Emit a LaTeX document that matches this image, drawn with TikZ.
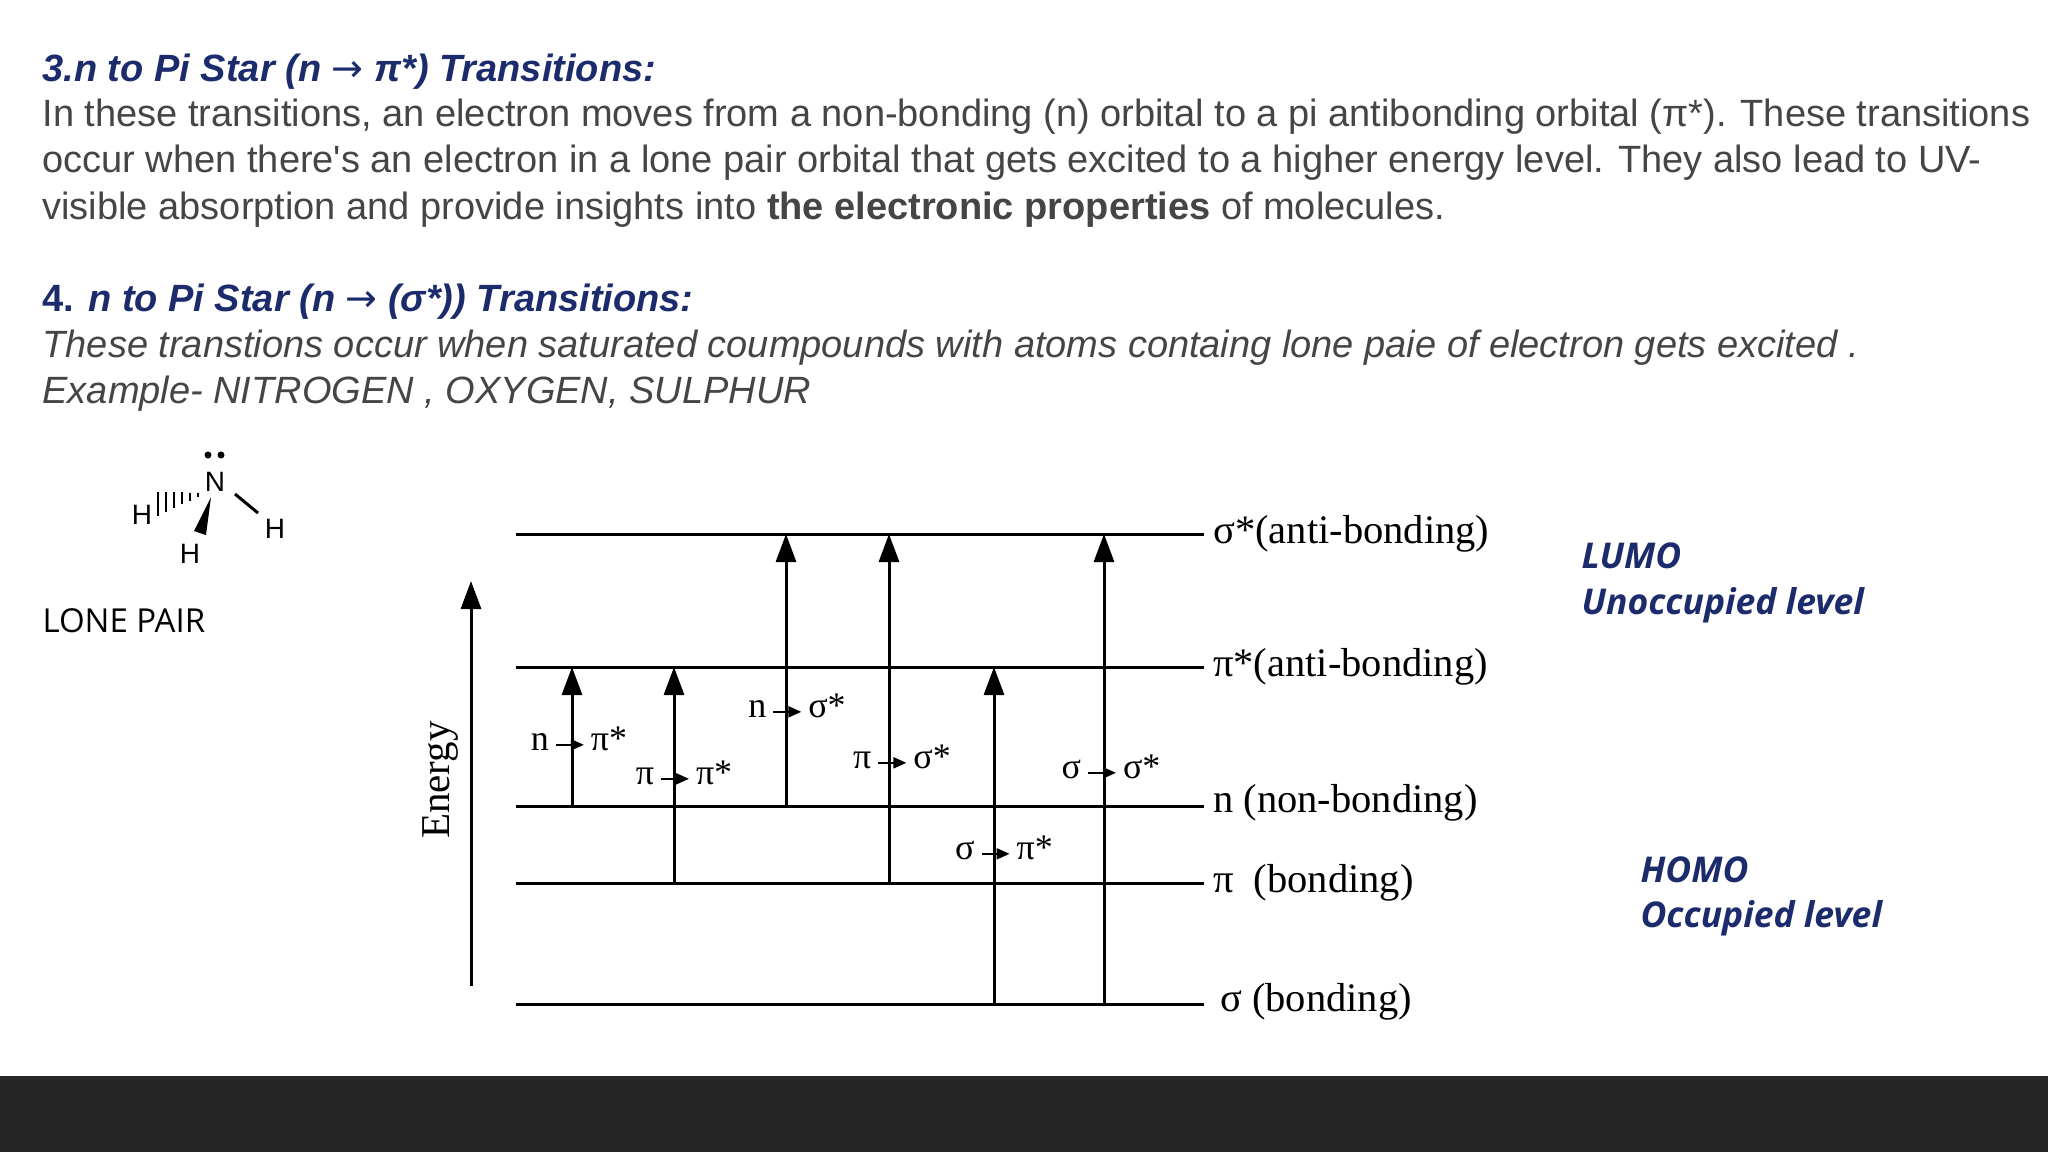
\documentclass[tikz,border=0pt]{standalone}
\usepackage{fontspec}
\setmainfont[Ligatures=NoCommon]{Liberation Sans}
\newfontfamily\dia{Liberation Serif}
\newfontfamily\osans{Open Sans}
\newfontfamily\djv{DejaVu Sans}
\usetikzlibrary{arrows.meta}
\definecolor{ttl}{HTML}{1C2B6B}
\definecolor{bodyc}{HTML}{454545}
\definecolor{band}{HTML}{262626}
\newcommand\myra{\,\tikz[baseline=-0.35ex]\draw[line width=2pt,-{Triangle[length=13pt,width=11pt]}] (0,0)--(28pt,0);\,}
\newcommand\tarr{{\djv\mdseries\upshape →}}
\tikzset{
  ttlf/.style={anchor=base west,text=ttl,font=\fontsize{38}{44}\selectfont\bfseries\itshape},
  bodyf/.style={anchor=base west,text=bodyc,font=\fontsize{38}{44}\selectfont},
  ibodyf/.style={anchor=base west,text=bodyc,font=\fontsize{38}{44}\selectfont\itshape},
  lvl/.style={line width=3pt},
  lvllab/.style={anchor=west,font=\dia\fontsize{40.5}{44}\selectfont,inner sep=0pt},
  tr/.style={line width=3pt,-{Triangle[length=28pt,width=20pt]}},
  trlab/.style={font=\dia\fontsize{36}{40}\selectfont,inner sep=0pt},
  homo/.style={anchor=base west,text=ttl,font=\osans\fontsize{35.5}{40}\selectfont\bfseries\itshape},
  atom/.style={font=\fontsize{28}{30}\selectfont,inner sep=1pt},
}
\begin{document}
\begin{tikzpicture}[x=1pt,y=-1pt]
\useasboundingbox (0,0) rectangle (2048,1152);
\fill[white] (0,0) rectangle (2048,1076);
\fill[band] (0,1076) rectangle (2048,1152);
% text
\node[ttlf] (t3) at (39,81) {3.n to Pi Star (n \tarr\ π*) Transitions:};
\node[bodyf] (b1) at (39,126) {In these transitions, an electron moves from a non-bonding (n) orbital to a pi antibonding orbital (π*). These transitions};
\node[bodyf] (b2) at (39,172) {occur when there\textquotesingle s an electron in a lone pair orbital that gets excited to a higher energy level. They also lead to UV-};
\node[bodyf] (b3) at (39,219) {visible absorption and provide insights into \textbf{the electronic properties} of molecules.};
\node[ttlf] (t4) at (39,311) {\upshape 4. \itshape n to Pi Star (n \tarr\ (σ*)) Transitions:};
\node[ibodyf] (i1) at (39,357) {These transtions occur when saturated coumpounds with atoms containg lone paie of electron gets excited .};
\node[ibodyf] (i2) at (39,403) {Example- NITROGEN , OXYGEN, SULPHUR};
% molecule
\node[atom] (N) at (215,482) {N};
\fill (208,455) circle (3.5pt) (221,455) circle (3.5pt);
\node[atom] (H1) at (142,515) {H};
\node[atom] (H2) at (275,529) {H};
\node[atom] (H3) at (190,554) {H};
\draw[line width=3pt] (235,494) -- (258,513);
\fill (211,497) -- (206,535) -- (194,531) -- cycle;
\foreach \i in {0,...,5}{
  \pgfmathsetmacro\xx{198-\i*8}
  \pgfmathsetmacro\hh{2+\i*2}
  \draw[line width=2pt] (\xx,{495+\i*1.7-\hh}) -- (\xx,{495+\i*1.7+\hh});
}
\node[anchor=base west,font=\osans\fontsize{33}{36}\selectfont] (lp) at (39,632) {LONE PAIR};
% levels
\foreach \nm/\y in {ss/534,ps/667,nn/806,pp/883,sg/1004}{
  \coordinate (\nm L) at (516,\y); \coordinate (\nm R) at (1204,\y);
  \draw[lvl] (\nm L) -- (\nm R);
}
\node[lvllab] (lss) at (1213,534) {σ*(anti-bonding)};
\node[lvllab] (lps) at (1213,667) {π*(anti-bonding)};
\node[lvllab] (lnn) at (1213,803) {n (non-bonding)};
\node[lvllab] (lpp) at (1213,883) {π\ \ (bonding)};
\node[lvllab] (lsg) at (1220,1002) {σ (bonding)};
% energy
\coordinate (e0) at (471,986); \coordinate (e1) at (471,581);
\draw[tr] (e0) -- (e1);
\node[rotate=90,font=\dia\fontsize{41}{44}\selectfont] (en) at (440,780) {Energy};
% transitions
\coordinate (a0) at (572,806); \coordinate (a1) at (572,667);
\coordinate (b0) at (674,883); \coordinate (b1x) at (674,667);
\coordinate (c0) at (786,806); \coordinate (c1) at (786,534);
\coordinate (d0) at (889,883); \coordinate (d1) at (889,534);
\coordinate (f0) at (994,1004); \coordinate (f1) at (994,667);
\coordinate (g0) at (1104,1004); \coordinate (g1) at (1104,534);
\draw[tr] (a0) -- (a1);
\draw[tr] (b0) -- (b1x);
\draw[tr] (c0) -- (c1);
\draw[tr] (d0) -- (d1);
\draw[tr] (f0) -- (f1);
\draw[tr] (g0) -- (g1);
\node[trlab] (la) at (579,739) {n\myra π*};
\node[trlab] (lb) at (684,773) {π\myra π*};
\node[trlab] (lc) at (797,706) {n\myra σ*};
\node[trlab] (ld) at (902,757) {π\myra σ*};
\node[trlab] (lf) at (1004,848) {σ\myra π*};
\node[trlab] (lg) at (1111,767) {σ\myra σ*};
% LUMO / HOMO
\node[homo] (lumo) at (1578,568) {LUMO};
\node[homo] (unocc) at (1578,614) {Unoccupied level};
\node[homo] (homo) at (1637,882) {HOMO};
\node[homo] (occ) at (1637,927) {Occupied level};
\end{tikzpicture}
\end{document}
